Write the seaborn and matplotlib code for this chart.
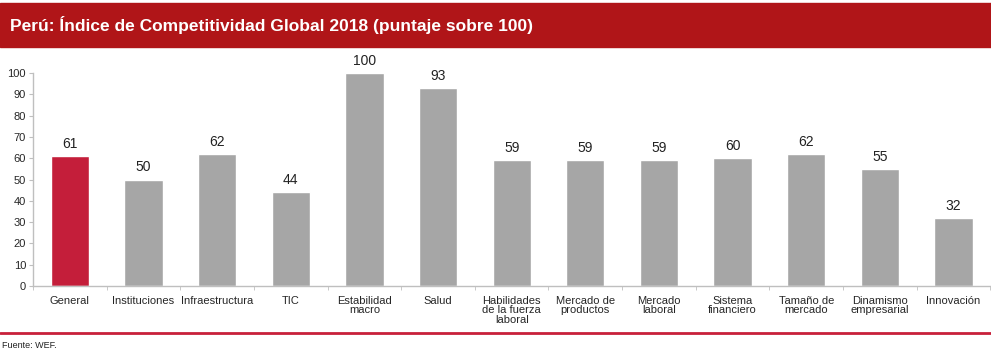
import pandas as pd
import seaborn as sns
import matplotlib.pyplot as plt

# Datos del gráfico
categorias = ['General', 'Instituciones', 'Infraestructura', 'TIC', 'Estabilidad\nmacro', 'Salud',
              'Habilidades\nde la fuerza\nlaboral', 'Mercado de\nproductos', 'Mercado\nlaboral',
              'Sistema\nfinanciero', 'Tamaño de\nmercado', 'Dinamismo\nempresarial', 'Innovación']
puntajes = [61, 50, 62, 44, 100, 93, 59, 59, 59, 60, 62, 55, 32]
y_ticks = list(range(0, 101, 10))

df = pd.DataFrame({'categoria': categorias, 'puntaje': puntajes})
colores = ['#C41E3A'] + ['#A6A6A6'] * (len(categorias) - 1)

sns.set_style('white')
plt.rcParams['font.family'] = ['Liberation Sans', 'DejaVu Sans']

fig = plt.figure(figsize=(9.91, 3.52), dpi=100)
ax = fig.add_axes([0.0333, 0.1875, 0.966, 0.605])

sns.barplot(data=df, x='categoria', y='puntaje', hue='categoria', palette=colores,
            width=0.52, legend=False, ax=ax, saturation=1)

for i, v in enumerate(puntajes):
    ax.text(i, v + 2.5, str(v), ha='center', va='bottom', fontsize=10, color='#222222')

ax.set_ylim(0, 100)
ax.set_xlim(-0.5, len(categorias) - 0.5)
ax.set_yticks(y_ticks)
ax.set_xlabel('')
ax.set_ylabel('')
ax.set_xticks(range(len(categorias)))
ax.set_xticklabels(categorias, fontsize=8, linespacing=0.95)
ax.tick_params(axis='y', labelsize=8, length=3, color='#BFBFBF', direction='out', pad=2, left=True)
ax.tick_params(axis='x', length=0, pad=7)
# marcas entre categorias
ax.set_xticks([i - 0.5 for i in range(len(categorias) + 1)], minor=True)
ax.tick_params(axis='x', which='minor', length=3, color='#BFBFBF', direction='out', bottom=True)

for s in ['top', 'right']:
    ax.spines[s].set_visible(False)
for s in ['left', 'bottom']:
    ax.spines[s].set_color('#BFBFBF')
    ax.spines[s].set_linewidth(1)

# Banda del título
fig.patches.append(plt.Rectangle((0, 1 - 47 / 352), 1, 44 / 352, transform=fig.transFigure,
                                 color='#B01518', zorder=0))
fig.text(10 / 991, 1 - 25 / 352, 'Perú: Índice de Competitividad Global 2018 (puntaje sobre 100)',
         color='white', fontsize=12.5, fontweight='bold', va='center', ha='left',
         family=['Liberation Sans Narrow', 'Liberation Sans', 'DejaVu Sans'])

# Línea inferior y fuente
fig.lines.append(plt.Line2D([0, 1], [1 - 333 / 352, 1 - 333 / 352], transform=fig.transFigure,
                            color='#C8203A', linewidth=2))
fig.text(2 / 991, 1 - 345 / 352, 'Fuente: WEF.', fontsize=6.5, va='center', ha='left', color='#222222')

plt.savefig('out.png', dpi=100)
